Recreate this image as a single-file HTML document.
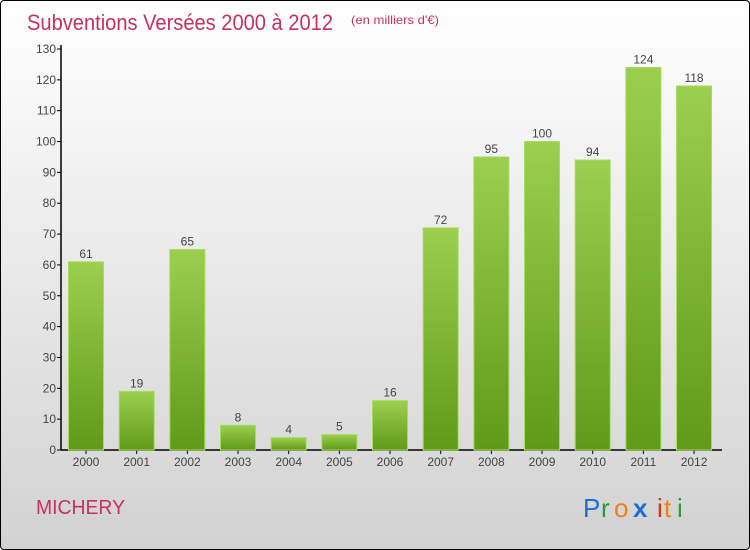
<!DOCTYPE html>
<html><head><meta charset="utf-8"><style>
html,body{margin:0;padding:0}
body{width:750px;height:550px;overflow:hidden;font-family:"Liberation Sans",sans-serif}
#frame{position:absolute;left:0;top:0;width:748px;height:548px;border:1px solid #000;border-radius:4px;background:linear-gradient(#ffffff,#d2d2d2)}
</style></head><body>
<div id="frame">
<svg width="750" height="550" style="position:absolute;left:-1px;top:-1px">
<defs><linearGradient id="bg" x1="0" y1="0" x2="0" y2="1"><stop offset="0" stop-color="#9ccf4f"/><stop offset="1" stop-color="#5f9a18"/></linearGradient></defs>
<text x="27" y="30" font-size="22" fill="#c8305e" textLength="306" lengthAdjust="spacingAndGlyphs">Subventions Versées 2000 à 2012</text>
<text x="351" y="24" font-size="12" fill="#c8305e" textLength="88" lengthAdjust="spacingAndGlyphs">(en milliers d'€)</text>
<g id="axes"></g><g id="bars"></g>
<text x="36" y="514" font-size="20" fill="#c8305e" textLength="89" lengthAdjust="spacingAndGlyphs">MICHERY</text>
<g font-size="26">
<text x="583" y="517" fill="#1a6fd0">P</text><text x="601" y="517" fill="#2a9a3a">r</text><text x="614" y="517" fill="#f08010">o</text><text x="633" y="517" fill="#1a6fd0" font-weight="bold">x</text><text x="657" y="517" fill="#e03010">i</text><text x="664" y="517" fill="#f08010">t</text><text x="677" y="517" fill="#2a9a3a">i</text></g>
</svg></div>
<script>
const categories=["2000","2001","2002","2003","2004","2005","2006","2007","2008","2009","2010","2011","2012"];
const values=[61,19,65,8,4,5,16,72,95,100,94,124,118];
const yTicks=[0,10,20,30,40,50,60,70,80,90,100,110,120,130];
const NS="http://www.w3.org/2000/svg";
const y0=450,yTop=49,yMax=130;
const y=v=>y0-(y0-yTop)*v/yMax;
const x=i=>86+i*50.67;
const bw=35;
function el(t,a,p){const e=document.createElementNS(NS,t);for(const k in a)e.setAttribute(k,a[k]);p.appendChild(e);return e;}
const ax=document.getElementById('axes'),bg=document.getElementById('bars');
let l=el('line',{x1:61,y1:y0,x2:61,y2:yTop-4,stroke:'#000','stroke-width':1.5},ax);


l=el('line',{x1:61,y1:y0,x2:722,y2:y0,stroke:'#000','stroke-width':1.5},ax);


yTicks.forEach(v=>{
 el('line',{x1:57,x2:61,y1:y(v),y2:y(v),stroke:'#000'},ax);
 const t=el('text',{x:56,y:y(v)+4,'text-anchor':'end','font-size':12,fill:'#444'},ax);t.textContent=v;
 
 
});
categories.forEach((c,i)=>{
 const v=values[i];
 el('line',{x1:x(i),x2:x(i),y1:y0,y2:y0+4,stroke:'#000'},ax);
 const t=el('text',{x:x(i),y:y0+16,'text-anchor':'middle','font-size':12,fill:'#444'},ax);t.textContent=c;
 
 
 const r=el('rect',{x:x(i)-bw/2,y:y(v),width:bw,height:y0-y(v),fill:'url(#bg)',stroke:'#a6dc5c','stroke-width':1},bg);
 
 
 const lb=el('text',{x:x(i),y:y(v)-4,'text-anchor':'middle','font-size':12,fill:'#444'},bg);lb.textContent=v;
 
 
});
</script>
</body></html>
